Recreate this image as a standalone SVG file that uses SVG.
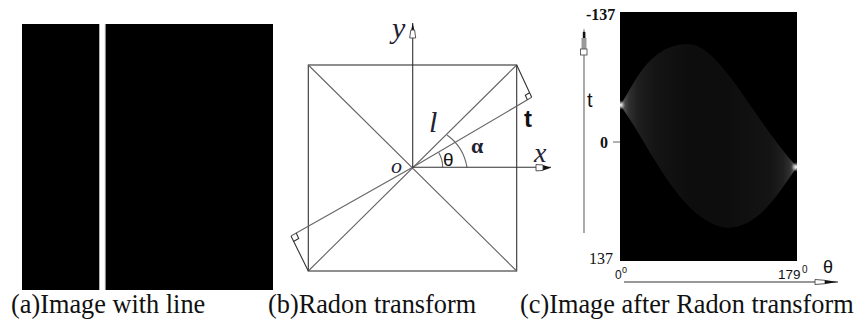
<svg xmlns="http://www.w3.org/2000/svg" width="860" height="320" viewBox="0 0 860 320">
<style>
.cap{font-family:"Liberation Serif",serif;font-size:26.3px;fill:#111}
.num{font-family:"Liberation Serif",serif;font-size:16px;fill:#111}
.sans{font-family:"Liberation Sans",sans-serif;fill:#111}
.it{font-family:"Liberation Serif",serif;font-style:italic;fill:#223}
.l{stroke:#333;stroke-width:1.1;fill:none}
.d{stroke:#666;stroke-width:1.1;fill:none}
.h{fill:#fff;stroke:#444;stroke-width:.9}
</style>
<defs>
<linearGradient id="g" x1="0" x2="1" y1="0" y2="0">
<stop offset="0" stop-color="#999"/><stop offset=".02" stop-color="#555"/><stop offset=".05" stop-color="#303030"/><stop offset=".1" stop-color="#1f1f1f"/><stop offset=".2" stop-color="#141414"/><stop offset=".4" stop-color="#0d0d0d"/><stop offset=".6" stop-color="#0d0d0d"/><stop offset=".85" stop-color="#141414"/><stop offset=".92" stop-color="#1f1f1f"/><stop offset=".96" stop-color="#303030"/><stop offset=".99" stop-color="#666"/><stop offset="1" stop-color="#aaa"/>
</linearGradient>
<radialGradient id="tip"><stop offset="0" stop-color="#fff"/><stop offset=".5" stop-color="#ccc" stop-opacity=".6"/><stop offset="1" stop-color="#888" stop-opacity="0"/></radialGradient>
<clipPath id="c"><rect x="620" y="12" width="177" height="249"/></clipPath>
</defs>
<g id="panel-a">
<rect x="22" y="24" width="77" height="266" fill="#000"/>
<rect x="99" y="24" width="0.9" height="266" fill="#aaa"/>
<rect x="104.8" y="24" width="0.9" height="266" fill="#aaa"/>
<rect x="105.7" y="24" width="167.3" height="266" fill="#000"/>
<text class="cap" x="11" y="313">(a)Image with line</text>
</g>
<g id="panel-b">
<rect class="l" x="308.3" y="65" width="208.4" height="206"/>
<path class="d" d="M308.3 65L516.7 271M516.7 65L308.3 271"/>
<path class="d" d="M291 236L412.7 167.3L531.7 97.3"/>
<path class="l" d="M516.7 65L531.7 97.3M308.3 271L291 236" stroke-width=".9"/>
<path class="l" d="M529.6 92.8L525.3 95.3L527.4 99.8" stroke-width=".9"/>
<path class="l" d="M293.5 241.4L298.7 238.4L296.2 233" stroke-width=".9"/>
<path class="d" d="M438.7 152.4A30 30 0 0 1 442.7 167.3"/>
<path class="d" d="M447 135A50 50 0 0 1 467 167.3"/>
<path class="l" d="M412.7 167.3V23M412.7 167.3H551" stroke-width="1.2"/>
<path d="M412.7 23L411 31H414.5Z" fill="#111"/>
<path d="M410.8 30H414.6L415.7 38H409.7Z" class="h"/>
<path d="M551 167.7L543 165V170.4Z" fill="#111"/>
<path d="M543 165L536 164.5V170.9L543 170.4Z" class="h"/>
<text class="it" x="392" y="38" font-size="30">y</text>
<text class="it" x="534" y="162" font-size="28">x</text>
<text class="it" x="391" y="173" font-size="22">o</text>
<text class="it" x="429" y="132" font-size="30">l</text>
<text class="sans" x="524" y="127" font-size="24" font-weight="bold">t</text>
<text class="it" x="471" y="153" font-size="22" font-weight="bold" style="font-style:normal">α</text>
<text class="sans" x="443" y="166" font-size="19">θ</text>
<text class="cap" x="268" y="313">(b)Radon transform</text>
</g>
<g id="panel-c">
<rect x="620" y="12" width="177" height="249" fill="#000"/>
<path d="M620 105C630 95 645 44 688 44C720 44 755 122 797 167C780 190 760 228 727 228C680 222 648 142 620 105Z" fill="url(#g)"/>
<g clip-path="url(#c)">
<circle cx="620.5" cy="105" r="5" fill="url(#tip)"/>
<circle cx="796" cy="167" r="5" fill="url(#tip)"/>
</g>
<path class="d" d="M584 233V50M613 142H620"/>
<path d="M584 28L583 32H585Z" fill="#888"/>
<rect x="582.8" y="32" width="2.6" height="6" fill="#111"/>
<rect x="581.5" y="38" width="5" height="12" fill="#999"/>
<rect x="580.5" y="49" width="6.5" height="6" fill="#fff" stroke="#555" stroke-width=".9"/>
<path class="l" d="M624 282H838"/>
<path d="M815 279.5L825 280.3V283.7L815 284.5Z" class="h"/>
<path d="M838 282L825 280V284Z" fill="#111"/>
<text class="num" x="586" y="20" font-weight="bold">-137</text>
<text class="num" x="589" y="264">137</text>
<text class="num" x="600" y="148" font-weight="bold" font-size="18">0</text>
<text class="sans" x="615" y="279" font-size="12">0</text><text class="sans" x="622" y="273" font-size="9">0</text>
<text class="sans" x="778" y="279" font-size="13.5">179</text><text class="sans" x="802" y="273" font-size="10">0</text>
<text class="sans" x="587" y="107" font-size="20">t</text>
<text class="sans" x="823" y="273" font-size="18">θ</text>
<text class="cap" x="520" y="313">(c)Image after Radon transform</text>
</g>
</svg>
